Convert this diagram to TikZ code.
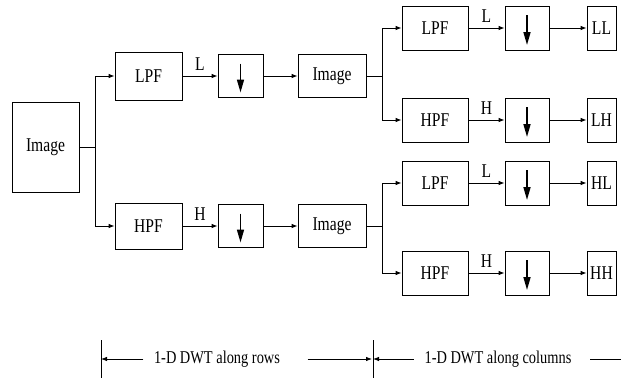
\documentclass[tikz,border=0pt]{standalone}
\usepackage{fontspec}
\setmainfont{Liberation Serif}
\newfontfamily\tallserif[FakeStretch=0.8]{Liberation Serif}
\usetikzlibrary{arrows.meta}

\begin{document}
\begin{tikzpicture}[x=1pt,y=-1pt,>={Latex[length=6pt,width=4.5pt]},line width=0.8pt,
 blk/.style={draw,inner sep=0pt,font=\tallserif\fontsize{19.5}{22}\selectfont},
 dn/.style={draw,inner sep=0pt,minimum width=45pt,minimum height=43pt,
  path picture={\draw[line width=1.6pt,-{Triangle[length=13pt,width=7pt]}]
   ([yshift=-9pt]path picture bounding box.north) -- ([yshift=5pt]path picture bounding box.south);}},
 lab/.style={above,font=\tallserif\fontsize{19.5}{22}\selectfont,inner sep=5pt},
 note/.style={font=\tallserif\fontsize{18}{20}\selectfont}]
\useasboundingbox (0,0) rectangle (621,380);
\node[blk,minimum width=67pt,minimum height=90pt] (img) at (45.5,147) {Image};
\node[blk,minimum width=67pt,minimum height=48pt] (lpfr) at (148.5,76) {LPF};
\node[dn] (dnr1) at (240.5,76) {};
\node[blk,minimum width=68pt,minimum height=43pt] (imr) at (332,76) {Image};
\node[blk,minimum width=67pt,minimum height=46pt] (hpfr) at (148.5,226) {HPF};
\node[dn] (dnr2) at (240.5,226) {};
\node[blk,minimum width=68pt,minimum height=43pt] (imc) at (332,226) {Image};
\coordinate (j1) at (95,147);
\coordinate (j2) at (382,76);
\coordinate (j3) at (382,226);
\draw (img) -- (j1);
\draw[->] (j1) |- (lpfr);
\draw[->] (j1) |- (hpfr);
\draw[->] (lpfr) -- node[lab]{L} (dnr1);
\draw[->] (hpfr) -- node[lab]{H} (dnr2);
\draw[->] (dnr1) -- (imr);
\draw[->] (dnr2) -- (imc);
\foreach \n/\y/\f/\s/\o in {a/28/LPF/L/LL,b/120/HPF/H/LH,c/183/LPF/L/HL,d/273/HPF/H/HH}{
 \node[blk,minimum width=66pt,minimum height=44pt] (f\n) at (435,\y) {\f};
 \node[dn,minimum width=44pt,minimum height=44pt] (d\n) at (527,\y) {};
 \node[blk,minimum width=29pt,minimum height=44pt] (o\n) at (601.5,\y) {\o};
 \draw[->] (f\n) -- node[lab]{\s} (d\n);
 \draw[->] (d\n) -- (o\n);
}
\draw (imr) -- (j2);
\draw[->] (j2) |- (fa);
\draw[->] (j2) |- (fb);
\draw (imc) -- (j3);
\draw[->] (j3) |- (fc);
\draw[->] (j3) |- (fd);
\coordinate (bar1) at (101,359);
\coordinate (bar2) at (373,359);
\coordinate (edge) at (621,359);
\draw[line width=1pt] ([yshift=19pt]bar1) -- ([yshift=-19pt]bar1);
\draw[line width=1pt] ([yshift=19pt]bar2) -- ([yshift=-19pt]bar2);
\node[note] (rows) at (217,359) {1-D DWT along rows};
\node[note] (cols) at (498,359) {1-D DWT along columns};
\draw[->] ([xshift=-7pt]rows.west) -- (bar1);
\draw[->] ([xshift=24pt]rows.east) -- ([xshift=-1pt]bar2);
\draw[->] ([xshift=-7pt]cols.west) -- (bar2);
\draw ([xshift=15pt]cols.east) -- (edge);
\end{tikzpicture}
\end{document}
